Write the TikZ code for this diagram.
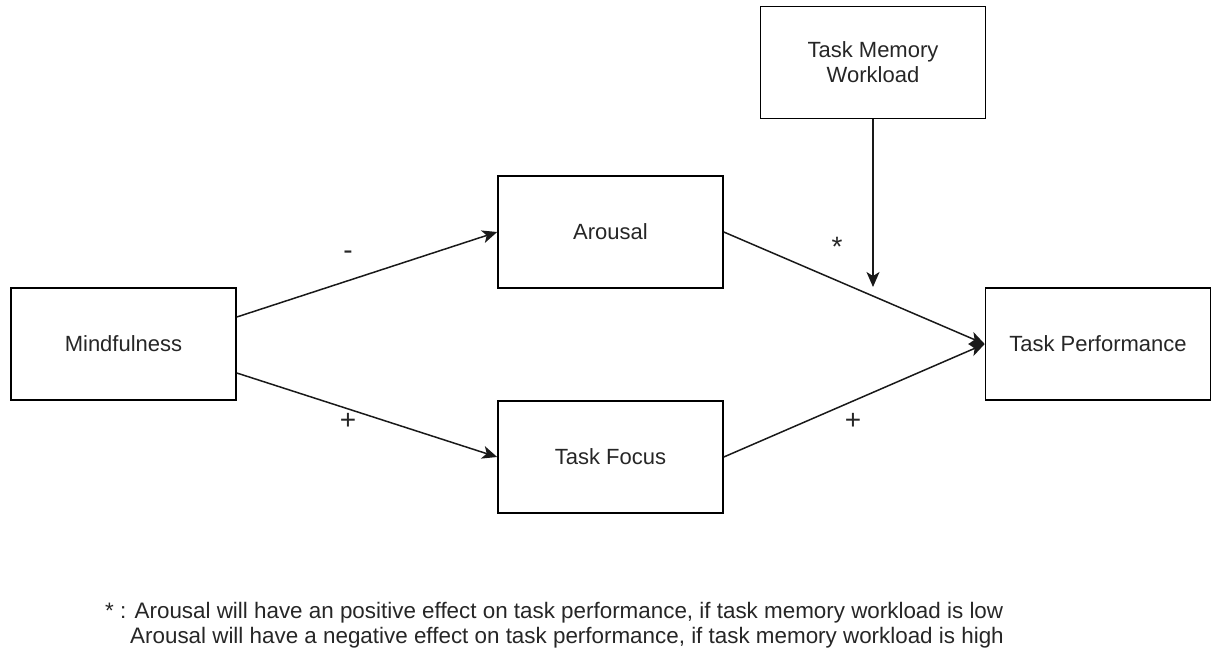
\documentclass[tikz,border=0pt]{standalone}
\usepackage{fontspec}
\setmainfont{Liberation Sans}
\usetikzlibrary{arrows.meta,calc}
\begin{document}
\begin{tikzpicture}[x=1pt,y=-1pt,
  every node/.style={font=\fontsize{22pt}{25pt}\selectfont, text=black!85},
  box/.style={draw=black, line width=1.6pt, minimum width=225pt, minimum height=112pt, inner sep=0pt, align=center},
  arr/.style={line width=1.5pt, draw=black!90, -{Stealth[length=15pt,width=13pt,inset=4pt]}},
  sign/.style={inner sep=0pt, font=\fontsize{28pt}{30pt}\selectfont}]
  \useasboundingbox (0,0) rectangle (1211,649);

  % variables
  \node[box] (M)   at (123.5,344)  {Mindfulness};
  \node[box] (A)   at (610.5,232)  {Arousal};
  \node[box] (TF)  at (610.5,457)  {Task Focus};
  \node[box] (TP)  at (1098,344)   {Task Performance};
  \node[box] (TMW) at (873,62.5)   {Task Memory\\Workload};

  % paths
  \draw[arr] ([yshift=27pt]M.east)  -- (A.west);
  \draw[arr] ([yshift=-29pt]M.east) -- (TF.west);
  \draw[arr] (A.east)  -- (TP.west);
  \draw[arr] (TF.east) -- (TP.west);
  \coordinate (mod) at (873,287);
  \draw[arr] (TMW.south) -- (mod);

  % effect signs
  \node[sign] (s1) at (348,255) {-};
  \node[sign] (s2) at (348,421) {+};
  \node[sign] (s3) at (837,247) {*};
  \node[sign] (s4) at (853,421) {+};

  % note
  \node[anchor=base west, inner sep=0pt, font=\fontsize{22.4pt}{25pt}\selectfont] (n1) at (105,618)
    {* : Arousal will have an positive effect on task performance, if task memory workload is low};
  \node[anchor=base west, inner sep=0pt, font=\fontsize{22.4pt}{25pt}\selectfont] (n2) at (130,643)
    {Arousal will have a negative effect on task performance, if task memory workload is high};
\end{tikzpicture}
\end{document}
